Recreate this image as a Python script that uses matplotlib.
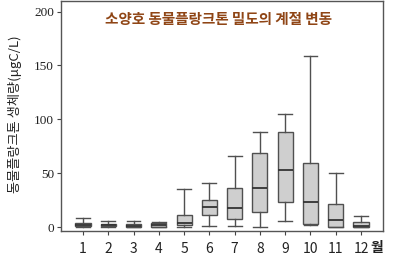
import matplotlib
matplotlib.use("Agg")
import matplotlib.pyplot as plt

plt.rcParams['font.family'] = ['Noto Sans CJK KR', 'DejaVu Sans']

months = [1, 2, 3, 4, 5, 6, 7, 8, 9, 10, 11, 12]
month_labels = ['1', '2', '3', '4', '5', '6', '7', '8', '9', '10', '11', '12']

# Five-number summaries of zooplankton biomass (μgC/L) per month
whisker_low = [0.0, 0.0, 0.0, 0.0, 0.0, 0.5, 0.5, 0.3, 5.5, 1.5, 0.0, 0.0]
q1 = [0.5, 0.5, 0.3, 0.3, 1.5, 11.5, 7.5, 14.0, 23.0, 3.0, 0.3, 0.2]
median = [2.0, 1.5, 1.0, 1.5, 4.0, 19.0, 18.0, 36.0, 53.0, 23.0, 6.5, 1.0]
q3 = [4.0, 3.0, 2.5, 4.0, 11.0, 25.5, 36.0, 69.0, 88.0, 59.0, 21.0, 5.0]
whisker_high = [8.0, 5.5, 6.0, 5.0, 35.0, 41.0, 66.0, 88.0, 105.0, 159.0, 50.0, 10.0]

y_ticks = [0, 50, 100, 150, 200]

stats = []
for i, m in enumerate(months):
    stats.append(dict(label=month_labels[i], whislo=whisker_low[i], q1=q1[i],
                      med=median[i], q3=q3[i], whishi=whisker_high[i], fliers=[]))

fig = plt.figure(figsize=(4.0, 2.66), dpi=100)
ax = fig.add_axes([0.1525, 0.1316, 0.805, 0.866])

edge = '#505050'
ax.bxp(stats, positions=months, widths=0.6, patch_artist=True, showfliers=False,
       capwidths=0.55,
       boxprops=dict(facecolor='#cfcfcf', edgecolor=edge, linewidth=1.0),
       medianprops=dict(color='#333333', linewidth=1.3),
       whiskerprops=dict(color=edge, linewidth=1.0),
       capprops=dict(color=edge, linewidth=1.0))

ax.set_xlim(0.13, 12.87)
ax.set_ylim(-3.7, 210.2)
ax.set_xticks(months)
ax.set_xticklabels(month_labels, fontsize=10, color='#222222')
ax.set_yticks(y_ticks)
ax.set_yticklabels([str(v) for v in y_ticks], fontsize=9.5, family='Liberation Serif', color='#222222')
ax.tick_params(axis='x', length=3, width=0.8, color='#444444', pad=5)
ax.tick_params(axis='y', length=3, width=0.8, color='#444444', pad=2)

for side, sp in ax.spines.items():
    sp.set_color('#555555')
    sp.set_linewidth(1.0)

ax.text(12.38, -0.075, '월', transform=ax.get_xaxis_transform(), ha='left', va='center',
        fontsize=10, fontweight='bold', color='#222222')

ax.text(0.49, 0.922, '소양호 동물플랑크톤 밀도의 계절 변동', transform=ax.transAxes,
        ha='center', va='center', fontsize=10.5, fontweight='bold', color='#8f4515')

fig.text(0.038, 0.57, '동물플랑크톤 생체량(μgC/L)', rotation=90, ha='center', va='center',
         fontsize=9.5, color='#222222')

fig.savefig('out.png', dpi=100)
